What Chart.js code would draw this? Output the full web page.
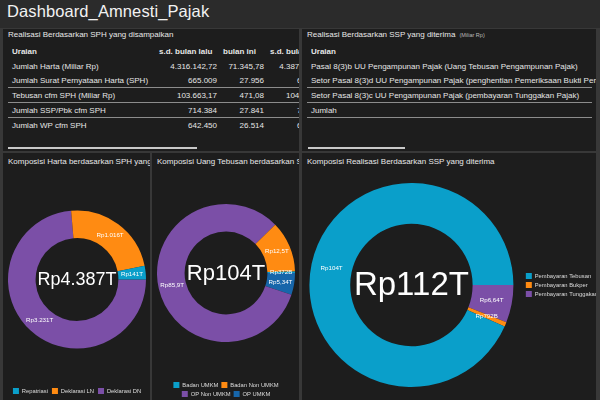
<!DOCTYPE html>
<html>
<head>
<meta charset="utf-8">
<script src="https://cdn.jsdelivr.net/npm/chart.js@4.4.0/dist/chart.umd.min.js"></script>
<style>
html, body { margin: 0; padding: 0; width: 600px; height: 400px; overflow: hidden; background: #383838; font-family: "Liberation Sans", Arial, sans-serif; color: #e6e6e6; }
#header { position: absolute; left: 0; top: 0; width: 600px; height: 28px; background: #2b2b2b; }
#header h1 { position: absolute; left: 7px; top: 2px; margin: 0; font-size: 16.5px; font-weight: normal; color: #f2f2f2; letter-spacing: 0.1px; }
.panel { position: absolute; background: #1d1d1d; overflow: hidden; }
.ptitle { position: absolute; left: 5px; white-space: nowrap; font-size: 8px; color: #e8e8e8; }
.ptitle small { font-size: 5.5px; color: #bbb; margin-left: 4px; }
.row { position: absolute; left: 5px; height: 14px; line-height: 14px; font-size: 8px; white-space: nowrap; }
.row.line { border-bottom: 1px solid #8c8c8c; height: 13px; }
.row.bold { font-weight: bold; }
.cell { position: absolute; top: 0; }
.scroll { position: absolute; top: 117.5px; height: 2.5px; background: #c8c8c8; }
canvas { position: absolute; }
</style>
</head>
<body>
<div id="header"><h1>Dashboard_Amnesti_Pajak</h1></div>

<div class="panel" id="p1" style="left:3px;top:29px;width:296px;height:122px;">
  <div class="ptitle" style="top:1px;">Realisasi Berdasarkan SPH yang disampaikan</div>
  <div class="scroll" style="left:5px;width:189px;"></div>
</div>
<div class="panel" id="p2" style="left:302px;top:29px;width:294px;height:122px;">
  <div class="ptitle" style="top:1px;">Realisasi Berdasarkan SSP yang diterima<small>(Miliar Rp)</small></div>
  <div class="scroll" style="left:6px;width:97px;"></div>
</div>

<div class="panel" style="left:3px;top:153px;width:147px;height:247px;">
  <div class="ptitle" style="top:3.5px;">Komposisi Harta berdasarkan SPH yang disampaikan</div>
  <canvas id="c1" width="147" height="236" style="left:0;top:15px;"></canvas>
</div>
<div class="panel" style="left:152px;top:153px;width:147px;height:247px;">
  <div class="ptitle" style="top:3.5px;">Komposisi Uang Tebusan berdasarkan SPH yang disampaikan</div>
  <canvas id="c2" width="147" height="244" style="left:0;top:10px;"></canvas>
</div>
<div class="panel" style="left:302px;top:153px;width:294px;height:247px;">
  <div class="ptitle" style="top:3.5px;">Komposisi Realisasi Berdasarkan SSP yang diterima</div>
  <canvas id="c3" width="312" height="232" style="left:-6px;top:15px;"></canvas>
</div>

<script>
// tabel SPH
const sphHeader = ['Uraian', 's.d. bulan lalu', 'bulan ini', 's.d. bulan ini'];
const sphUraian = ['Jumlah Harta (Miliar Rp)', 'Jumlah Surat Pernyataan Harta (SPH)', 'Tebusan cfm SPH (Miliar Rp)', 'Jumlah SSP/Pbk cfm SPH', 'Jumlah WP cfm SPH'];
const sphBulanLalu = ['4.316.142,72', '665.009', '103.663,17', '714.384', '642.450'];
const sphBulanIni = ['71.345,78', '27.956', '471,08', '27.841', '26.514'];
const sphSdBulanIni = ['4.387.488,50', '692.965', '104.134,25', '742.225', '668.964'];

// tabel SSP
const sspUraian = [
  'Pasal 8(3)b UU Pengampunan Pajak (Uang Tebusan Pengampunan Pajak)',
  'Setor Pasal 8(3)d UU Pengampunan Pajak (penghentian Pemeriksaan Bukti Permulaan)',
  'Setor Pasal 8(3)c UU Pengampunan Pajak (pembayaran Tunggakan Pajak)',
  'Jumlah'
];

// donat (triliun Rp)
const hartaKategori = ['Repatriasi', 'Deklarasi LN', 'Deklarasi DN'];
const hartaNilai = [140.6, 1015.9, 3230.9];
const tebusanKategori = ['Badan UMKM', 'Badan Non UMKM', 'OP Non UMKM', 'OP UMKM'];
const tebusanNilai = [0.372, 12.5, 85.9, 5.34];
const sspKategori = ['Pembayaran Tebusan', 'Pembayaran Bukper', 'Pembayaran Tunggakan'];
const sspNilai = [104.1, 0.792, 6.64];

const TEAL = '#0a9fca', ORANGE = '#ff8b12', PURPLE = '#7b4fa7', BLUE = '#1766aa';
const hartaWarna = [TEAL, ORANGE, PURPLE];
const tebusanWarna = [TEAL, ORANGE, PURPLE, BLUE];
const sspWarna = [TEAL, ORANGE, PURPLE];

const FONT = '"Liberation Sans", Arial, sans-serif';

function addRow(panel, top, cells, cls) {
  const r = document.createElement('div');
  r.className = 'row' + (cls ? ' ' + cls : '');
  r.style.top = top + 'px';
  r.style.width = '300px';
  cells.forEach(c => {
    const d = document.createElement('div');
    d.className = 'cell';
    d.textContent = c.text;
    if (c.right != null) { d.style.right = (300 - c.right) + 'px'; d.style.textAlign = 'right'; }
    else d.style.left = c.left + 'px';
    r.appendChild(d);
  });
  panel.appendChild(r);
}

const p1 = document.getElementById('p1');
addRow(p1, 15.5, [
  { text: sphHeader[0], left: 4 }, { text: sphHeader[1], left: 151 },
  { text: sphHeader[2], left: 215 }, { text: sphHeader[3], left: 262 }
], 'bold');
sphUraian.forEach((u, i) => {
  addRow(p1, 30.7 + i * 14.7, [
    { text: u, left: 4 }, { text: sphBulanLalu[i], right: 209 },
    { text: sphBulanIni[i], right: 256 }, { text: sphSdBulanIni[i], right: 318 }
  ], (i >= 1 && i <= 3) ? 'line' : '');
});

const p2 = document.getElementById('p2');
addRow(p2, 15.5, [{ text: 'Uraian', left: 4 }], 'bold');
sspUraian.forEach((u, i) => {
  addRow(p2, 30.7 + i * 14.7, [{ text: u, left: 4 }], (i >= 1) ? 'line' : '');
});
p2.querySelectorAll('.row').forEach(r => r.style.width = '285px');

function fmtRp(v) {
  if (v < 1) return 'Rp' + Math.round(v * 1000) + 'B';
  if (v >= 1000) return 'Rp' + Math.round(v).toString().replace(/\B(?=(\d{3})+(?!\d))/g, '.') + 'T';
  return 'Rp' + Number(v.toPrecision(3)).toString().replace('.', ',') + 'T';
}

// label di tiap irisan + total di tengah
const ringLabels = {
  id: 'ringLabels',
  afterDatasetsDraw(chart, args, opts) {
    const ctx = chart.ctx;
    const meta = chart.getDatasetMeta(0);
    const data = chart.data.datasets[0].data;
    const total = data.reduce((a, b) => a + b, 0);
    const arc0 = meta.data[0];
    ctx.save();
    ctx.fillStyle = '#ffffff';
    ctx.textAlign = 'center';
    ctx.textBaseline = 'middle';
    ctx.font = opts.centerSize + 'px ' + FONT;
    ctx.fillText(fmtRp(total), arc0.x, arc0.y + 1);
    ctx.font = opts.size + 'px ' + FONT;
    meta.data.forEach((arc, i) => {
      const p = arc.tooltipPosition();
      ctx.fillText(fmtRp(data[i]), p.x, p.y);
    });
    ctx.restore();
  }
};

// searah jarum jam dari arah jam 3, dengan urutan dibalik
function donut(id, labels, values, colors, legendPos, padding, legendPad, centerSize) {
  return new Chart(document.getElementById(id), {
    type: 'doughnut',
    data: {
      labels: labels.slice().reverse(),
      datasets: [{
        data: values.slice().reverse(),
        backgroundColor: colors.slice().reverse(),
        borderWidth: 0,
        hoverOffset: 0
      }]
    },
    options: {
      responsive: false,
      animation: false,
      devicePixelRatio: 1,
      cutout: '60%',
      rotation: 90,
      layout: { padding: padding },
      plugins: {
        tooltip: { enabled: false },
        legend: {
          position: legendPos,
          reverse: true,
          labels: {
            color: '#dddddd',
            boxWidth: 6,
            boxHeight: 6,
            padding: legendPad,
            font: { family: FONT, size: 5.8 }
          }
        },
        ringLabels: { size: 6.2, centerSize: centerSize }
      }
    },
    plugins: [ringLabels]
  });
}

donut('c1', hartaKategori, hartaNilai, hartaWarna, 'bottom', { left: 5, right: 4, top: 7, bottom: 0 }, 4, 18);
donut('c2', tebusanKategori, tebusanNilai, tebusanWarna, 'bottom', { left: 5, right: 4, top: 4, bottom: 0 }, 3, 22);
donut('c3', sspKategori, sspNilai, sspWarna, 'right', { left: 4, right: 0, top: 15, bottom: 13 }, 3, 33);
</script>
</body>
</html>
